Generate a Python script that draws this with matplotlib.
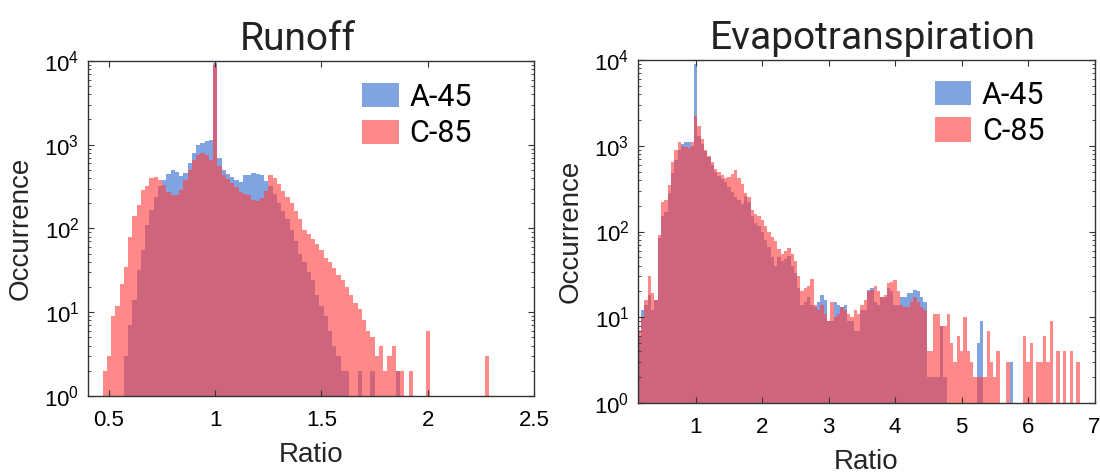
import numpy as np
import matplotlib
matplotlib.use("Agg")
from matplotlib import pyplot as plt
from matplotlib.patches import Patch
from matplotlib.ticker import LogLocator

# --- Runoff histogram: bin centres start at 0.48, width 0.02 ---
runoff_start = 0.48
runoff_width = 0.02
runoff_a45 = [
    0, 0, 0, 0, 1, 3, 7, 14, 32, 55,
    110, 165, 240, 320, 380, 450, 500, 470, 420, 460,
    600, 790, 1000, 1050, 1100, 1150, 9500, 700, 500, 450,
    410, 380, 360, 430, 440, 460, 450, 440, 370, 320,
    260, 200, 160, 130, 95, 70, 50, 40, 30, 24,
    16, 12, 9, 6, 4, 3, 2, 2, 1, 1,
    2, 1, 1, 2, 0, 0, 0, 0, 0, 2,
    0, 0, 0, 0, 0, 0, 0, 0, 0, 0,
    0, 0, 0, 0, 0, 0, 0, 0, 0, 0,
    0,
]
runoff_c85 = [
    2, 3, 9, 12, 22, 35, 80, 140, 190, 290,
    320, 400, 410, 380, 330, 270, 250, 250, 290, 380,
    500, 660, 760, 790, 760, 660, 9000, 560, 440, 390,
    350, 310, 275, 260, 250, 220, 210, 230, 280, 430,
    400, 340, 280, 240, 200, 160, 130, 95, 85, 75,
    65, 55, 45, 40, 34, 28, 24, 20, 16, 13,
    11, 8, 6, 5, 3, 4, 2, 3, 4, 2,
    2, 0, 2, 0, 0, 0, 6, 0, 0, 0,
    0, 0, 0, 0, 0, 0, 0, 0, 0, 0,
    3,
]

# --- Evapotranspiration histogram: bin centres start at 0.15, width 0.05 ---
evap_start = 0.15
evap_width = 0.05
evap_a45 = [
    6, 12, 14, 18, 12, 16, 85, 150, 170, 280,
    480, 680, 900, 1050, 1100, 1100, 1000, 9000, 1300, 1050,
    870, 730, 600, 500, 440, 410, 380, 330, 290, 250,
    230, 210, 260, 220, 150, 125, 115, 100, 80, 66,
    50, 40, 50, 45, 48, 52, 40, 33, 22, 14,
    15, 17, 14, 13, 15, 18, 16, 9, 9, 15,
    14, 13, 14, 9, 9, 7, 7, 12, 12, 21,
    22, 15, 14, 17, 17, 22, 20, 14, 14, 17,
    17, 19, 19, 21, 20, 17, 15, 2, 2, 2,
    2, 8, 2, 0, 0, 0, 0, 0, 0, 0,
    0, 0, 5, 9, 0, 0, 0, 0, 0, 0,
    0, 0, 3, 0, 0, 0, 0, 0, 0, 0,
    0, 0, 0, 0, 0, 0, 0, 0, 0, 0,
    0, 0, 0, 0,
]
evap_c85 = [
    7, 10, 16, 30, 19, 16, 90, 220, 230, 350,
    650, 900, 1100, 1000, 980, 930, 1100, 2200, 1700, 1200,
    900, 760, 650, 540, 500, 450, 420, 430, 470, 520,
    420, 360, 280, 250, 180, 160, 150, 135, 115, 100,
    87, 78, 62, 55, 60, 65, 55, 45, 30, 20,
    22, 23, 28, 14, 12, 14, 11, 9, 15, 10,
    11, 13, 12, 11, 10, 12, 11, 14, 16, 20,
    21, 23, 20, 17, 18, 25, 26, 27, 20, 14,
    13, 13, 15, 17, 15, 13, 12, 4, 4, 11,
    11, 8, 8, 11, 5, 3, 6, 4, 10, 4,
    3, 2, 2, 2, 2, 7, 3, 2, 4, 0,
    0, 3, 0, 0, 0, 0, 6, 3, 5, 0,
    3, 3, 6, 3, 9, 0, 4, 0, 4, 0,
    4, 0, 3, 0,
]

series_names = ["A-45", "C-85"]
blue = (0.20, 0.42, 0.82)
red = (1.0, 0.25, 0.25)
alpha = 0.62

narrow = ["Roboto", "DejaVu Sans"]
plt.rcParams["font.family"] = ["Liberation Sans", "DejaVu Sans"]

fig = plt.figure(figsize=(11, 4.74), dpi=100)
ax1 = fig.add_axes([0.0797, 0.1646, 0.4057, 0.7068])
ax2 = fig.add_axes([0.5797, 0.1498, 0.4153, 0.7236])


def draw(ax, start, width, a45, c85, title, title_x, xlim, xticks, leg_x, leg_y):
    centres = start + width * np.arange(len(a45))
    ax.bar(centres, a45, width=width, color=blue, alpha=alpha, linewidth=0)
    ax.bar(centres, c85, width=width, color=red, alpha=alpha, linewidth=0)
    ax.set_yscale("log")
    ax.set_ylim(1, 1e4)
    ax.set_xlim(*xlim)
    ax.set_xticks(xticks)
    ax.set_xticklabels([("%g" % t) for t in xticks])
    ax.set_yticks([1, 10, 100, 1000, 10000])
    ax.yaxis.set_minor_locator(LogLocator(base=10, subs=np.arange(2, 10)))
    ax.tick_params(axis="both", which="both", direction="in", top=True,
                   right=True, labelsize=16, color="#333333")
    ax.tick_params(axis="x", pad=10)
    ax.tick_params(axis="y", pad=6)
    ax.tick_params(which="major", length=4)
    ax.tick_params(which="minor", length=2)
    for s in ax.spines.values():
        s.set_color("#333333")
        s.set_linewidth(1.0)
    ax.set_xlabel("Ratio", fontsize=20, color="#262626", labelpad=8)
    ax.set_ylabel("Occurrence", fontsize=20, color="#262626", labelpad=8)
    ax.set_title(title, fontsize=28, family=narrow, color="#222222", pad=8,
                 x=title_x)
    handles = [Patch(facecolor=blue, alpha=alpha, edgecolor="none"),
               Patch(facecolor=red, alpha=alpha, edgecolor="none")]
    ax.legend(handles, series_names, loc="upper left",
              bbox_to_anchor=(leg_x, leg_y), frameon=False,
              prop={"family": narrow, "size": 22}, handlelength=1.2,
              handleheight=0.85, handletextpad=0.35, labelspacing=0.25,
              borderaxespad=0, borderpad=0)


draw(ax1, runoff_start, runoff_width, runoff_a45, runoff_c85, "Runoff", 0.47,
     (0.4, 2.5), [0.5, 1, 1.5, 2, 2.5], 0.615, 0.935)
draw(ax2, evap_start, evap_width, evap_a45, evap_c85, "Evapotranspiration",
     0.515, (0.125, 7), [1, 2, 3, 4, 5, 6, 7], 0.65, 0.94)

fig.savefig("out.png", dpi=100)
